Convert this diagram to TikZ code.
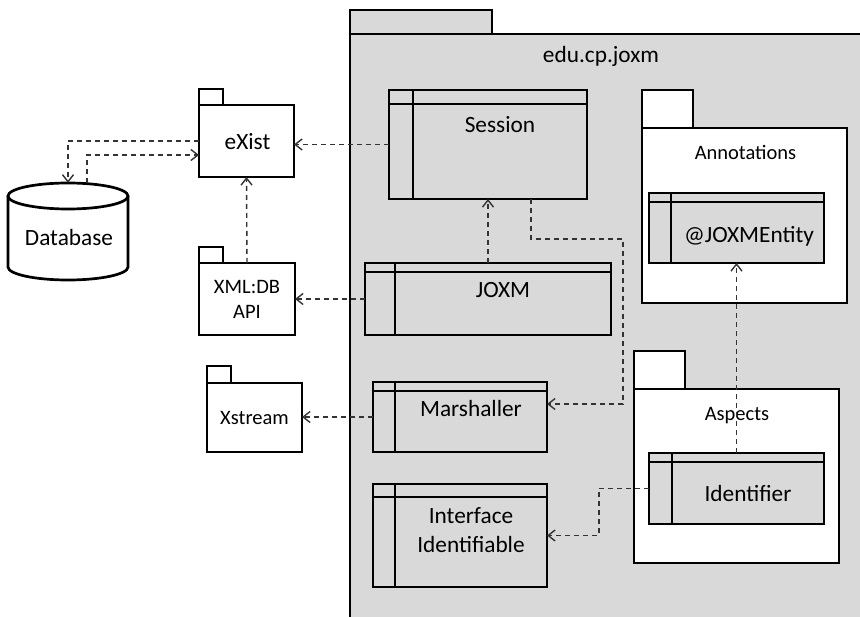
\documentclass[tikz,border=0pt]{standalone}
\usepackage{fontspec}
\setmainfont{Carlito}
\usepackage{tikz}
\usetikzlibrary{arrows.meta,calc}
\definecolor{pkggray}{HTML}{D9D9D9}
\definecolor{depgray}{HTML}{333333}
\newcommand{\classfont}{\fontsize{23.3}{29}\selectfont}
\newcommand{\pkgfont}{\fontsize{20.5}{25}\selectfont}

\begin{document}
\begin{tikzpicture}[x=1pt,y=-1pt,
  pkgbox/.style={draw,line width=2.7pt,fill=white,inner sep=0pt,outer sep=0pt},
  pkgtab/.style={draw,line width=2.7pt,fill=white},
  pkgline/.style={draw,line width=2.7pt},
  classbox/.style 2 args={draw,line width=2.7pt,fill=pkggray,inner sep=0pt,outer sep=0pt,
    path picture={
      \draw[line width=2.7pt] ([yshift=-#1]path picture bounding box.north west) -- ([yshift=-#1]path picture bounding box.north east);
      \draw[line width=2.7pt] ([xshift=#2]path picture bounding box.north west) -- ([xshift=#2]path picture bounding box.south west);}},
  classtext/.style={font=\classfont,anchor=base,align=center,inner sep=0pt},
  pkgtext/.style={font=\pkgfont,anchor=base,align=center,inner sep=0pt},
  dep/.style={draw=depgray,line width=1.4pt,dash pattern=on 5pt off 4pt},
  >={Straight Barb[length=7pt,width=11pt]}]

  \useasboundingbox (0,0) rectangle (860,617);
  \clip (0,0) rectangle (860,617);

  % Main package: edu.cp.joxm
  \node[pkgbox,fill=pkggray,anchor=north west,minimum width=540,minimum height=620] (joxmpkg) at (350,34) {};
  \draw[pkgtab,fill=pkggray] (joxmpkg.north west) rectangle ++(142,-24);
  \node[classtext] (joxmlabel) at (601,63) {edu.cp.joxm};

  % Left: outside packages
  \node[pkgbox,minimum width=95,minimum height=72] (exist) at (246.5,141) {};
  \draw[pkgtab] (exist.north west) rectangle ++(24,-16);
  \node[classtext] (existlabel) at (247.5,150) {eXist};

  \node[pkgbox,minimum width=96,minimum height=72] (xmldb) at (247,299) {};
  \draw[pkgtab] (xmldb.north west) rectangle ++(24,-16);
  \node[pkgtext] (xmldblabel) at (247,319) {XML:DB\\API};

  \node[pkgbox,minimum width=95,minimum height=69] (xstream) at (254.5,417.5) {};
  \draw[pkgtab] (xstream.north west) rectangle ++(24,-17);
  \node[pkgtext] (xstreamlabel) at (254.5,425) {Xstream};

  % Database cylinder
  \node[minimum width=120,minimum height=97,inner sep=0pt] (db) at (68,231.5) {};
  \draw[pkgline] (8,196) -- (8,267) arc[start angle=180,end angle=0,x radius=60,y radius=13] -- (128,196);
  \draw[pkgline] (68,196) ellipse[x radius=60,y radius=13];
  \node[classtext] (dblabel) at (69,246) {Database};

  % Classes of edu.cp.joxm
  \node[classbox={14pt}{24pt},minimum width=198,minimum height=109] (session) at (488,144.5) {};
  \node[classtext] (sessionlabel) at (500,133) {Session};

  \node[classbox={9pt}{30pt},minimum width=246,minimum height=72] (joxm) at (488,299) {};
  \node[classtext] (joxmclasslabel) at (503,298) {JOXM};

  \node[classbox={9pt}{22pt},minimum width=174,minimum height=70] (marshaller) at (460,417) {};
  \node[classtext] (marshallerlabel) at (471,417) {Marshaller};

  \node[classbox={13pt}{22pt},minimum width=174,minimum height=103] (iface) at (460,535.5) {};
  \node[classtext] (ifacelabel) at (471,552) {Interface\\Identifiable};

  % Right: inner packages
  \node[pkgbox,minimum width=205,minimum height=175] (annotations) at (744.5,215.5) {};
  \draw[pkgtab] (annotations.north west) rectangle ++(51,-38);
  \node[pkgtext] (annotationslabel) at (745.5,160) {Annotations};
  \node[classbox={9pt}{22pt},minimum width=175,minimum height=70] (entity) at (736.5,228) {};
  \node[classtext] (entitylabel) at (749,243) {@JOXMEntity};

  \node[pkgbox,minimum width=205,minimum height=174] (aspects) at (736.5,476) {};
  \draw[pkgtab] (aspects.north west) rectangle ++(51,-38);
  \node[pkgtext] (aspectslabel) at (737,421) {Aspects};
  \node[classbox={9pt}{23pt},minimum width=175,minimum height=71] (identifier) at (736.5,488.5) {};
  \node[classtext] (identifierlabel) at (748,502) {Identifier};

  % Dependencies
  \draw[dep,->] (session.west) -- (exist.east |- session.west);
  \draw[dep,->] (exist.west) -| (db.north);
  \draw[dep,->] ([xshift=19pt]db.north) |- ([yshift=-14pt]exist.west);
  \draw[dep,->] (xmldb.north) -- (exist.south);
  \draw[dep,->] (joxm.west) -- (xmldb.east |- joxm.west);
  \draw[dep,->] (joxm.north) -- (session.south);
  \draw[dep,->] ([xshift=43pt]session.south) -- ++(0,40) -- ++(92,0) |- ([yshift=13pt]marshaller.east);
  \draw[dep,->] (marshaller.west) -- (xstream.east |- marshaller.west);
  \draw[dep,->] (identifier.north) -- (entity.south);
  \draw[dep,->] (identifier.west) -- ++(-50,0) |- (iface.east);
\end{tikzpicture}
\end{document}
